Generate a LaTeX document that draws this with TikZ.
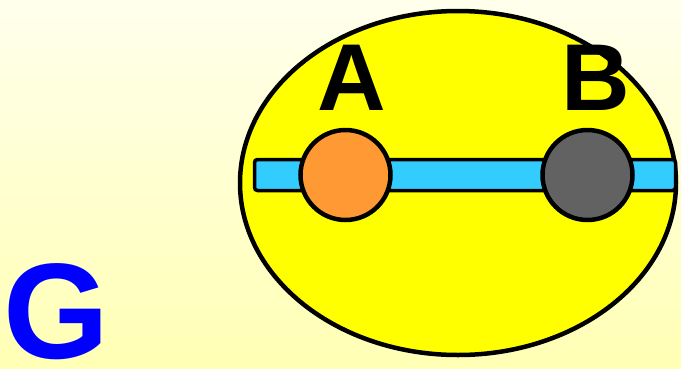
\documentclass[tikz,border=0pt]{standalone}
\usepackage{fontspec}
\setmainfont{Liberation Sans}
\usetikzlibrary{shapes.geometric}
\definecolor{bgtop}{HTML}{FFFFF0}
\definecolor{bgbot}{HTML}{FFFF99}
\definecolor{elly}{HTML}{FFFF00}
\definecolor{barblue}{HTML}{33CCFF}
\definecolor{orangeA}{HTML}{FF9933}
\definecolor{grayB}{HTML}{626262}
\pgfdeclareverticalshading{bgshade}{100bp}{color(0bp)=(bgbot); color(92bp)=(white); color(100bp)=(bgtop)}
\begin{document}
\begin{tikzpicture}[x=1pt,y=-1pt,
  outline/.style={draw=black,line width=4.5pt},
  ball/.style={circle,outline,minimum size=90pt,inner sep=0pt},
  letter/.style={anchor=base,inner sep=0pt,font=\fontsize{95}{95}\selectfont\bfseries}]
\useasboundingbox (0,0) rectangle (681,368);
\clip (0,0) rectangle (681,368);
\shade[shading=bgshade] (0,0) rectangle (681,368);
\node[ellipse,outline,fill=elly,minimum width=436pt,minimum height=344pt,inner sep=0pt] (E) at (458,183) {};
\node[draw=black,line width=3.5pt,fill=barblue,rounded corners=3pt,minimum width=421pt,minimum height=31pt,inner sep=0pt] (bar) at (465,175) {};
\node[ball,fill=orangeA] (a) at (345.5,175) {};
\node[ball,fill=grayB] (b) at (587.5,175) {};
\node[letter] (lA) at (352,110) {A};
\node[letter] (lB) at (596,110) {B};
\node[anchor=base,inner sep=0pt,text=blue,font=\fontsize{136}{136}\selectfont\bfseries] (G) at (56,358) {G};
\end{tikzpicture}
\end{document}
